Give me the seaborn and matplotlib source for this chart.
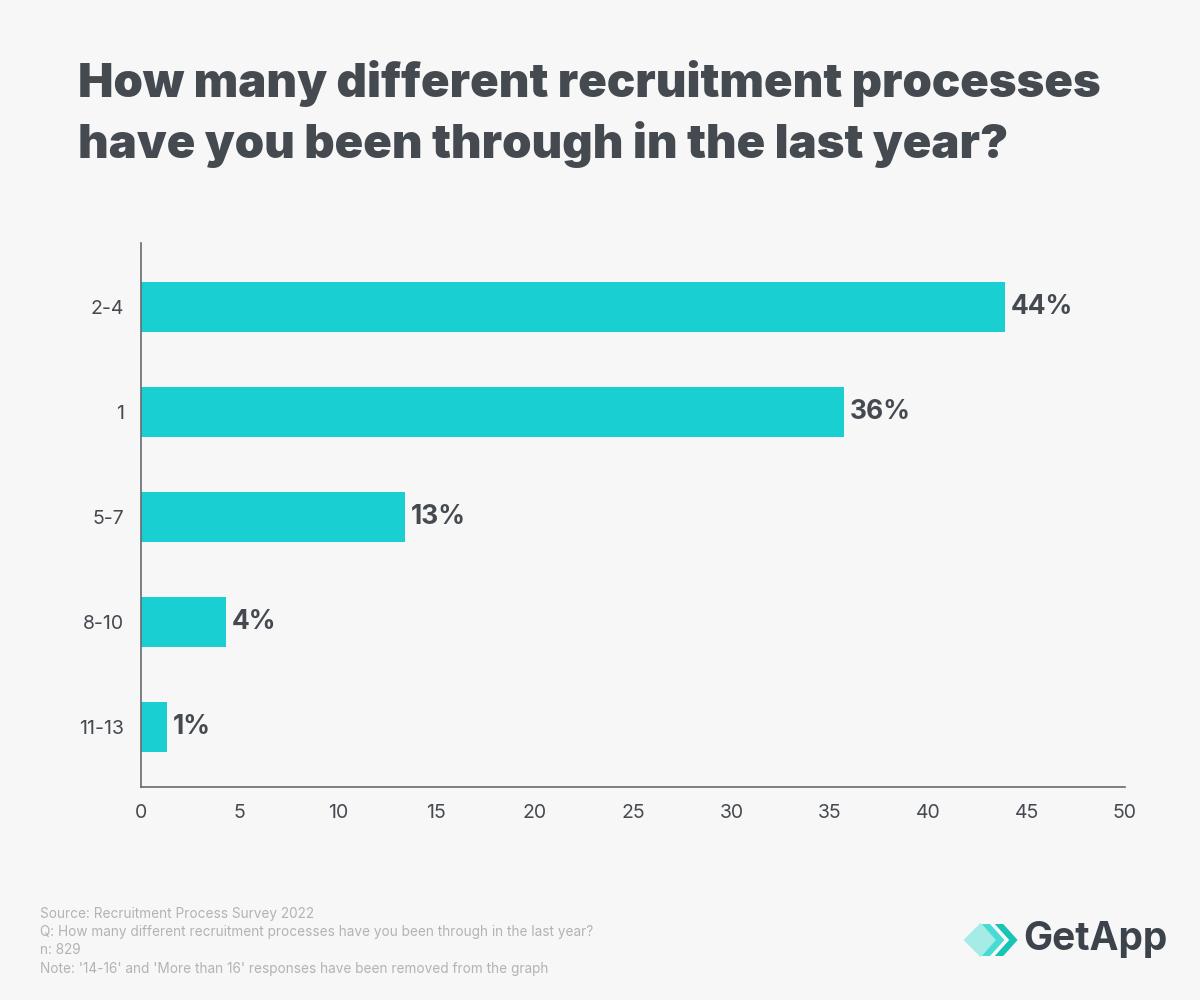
import matplotlib
matplotlib.use("Agg")
import matplotlib.pyplot as plt
import seaborn as sns
import pandas as pd
from matplotlib.patches import Polygon

categories = ["2-4", "1", "5-7", "8-10", "11-13"]
values = [43.9, 35.7, 13.4, 4.3, 1.3]
labels = ["44%", "36%", "13%", "4%", "1%"]
xticks = [0, 5, 10, 15, 20, 25, 30, 35, 40, 45, 50]

BG = "#f7f7f7"
BAR = "#19cfd1"
DARK = "#454a51"
GREY = "#b3b3b3"

sns.set_theme(style="white")
plt.rcParams["font.family"] = ["Inter", "DejaVu Sans"]

df = pd.DataFrame({"category": categories, "value": values})

fig = plt.figure(figsize=(12, 10), dpi=100, facecolor=BG)
ax = fig.add_axes([0.1175, 0.213, 0.82, 0.544])
ax.set_facecolor(BG)

sns.barplot(data=df, x="value", y="category", order=categories, color=BAR,
            width=0.48, saturation=1, ax=ax, edgecolor="none")

for i, (v, lab) in enumerate(zip(values, labels)):
    ax.text(v + 0.3, i, lab, va="center", ha="left", fontsize=19,
            fontweight="bold", color=DARK)

ax.set_xlim(0, 50)
ax.set_ylim(4.57, -0.61)
ax.set_xticks(xticks)
ax.set_xticklabels([str(t) for t in xticks])
ax.set_xlabel("")
ax.set_ylabel("")
ax.tick_params(axis="x", labelsize=14, colors=DARK, length=0, pad=12)
ax.tick_params(axis="y", labelsize=14, colors=DARK, length=0, pad=12)
for s in ["top", "right"]:
    ax.spines[s].set_visible(False)
for s in ["left", "bottom"]:
    ax.spines[s].set_color("#666a70")
    ax.spines[s].set_linewidth(1.2)

fig.text(0.065, 0.940, "How many different recruitment processes\nhave you been through in the last year?",
         fontsize=34, fontweight=900, color=DARK, ha="left", va="top",
         linespacing=1.38)

foot = ("Source: Recruitment Process Survey 2022\n"
        "Q: How many different recruitment processes have you been through in the last year?\n"
        "n: 829\n"
        "Note: '14-16' and 'More than 16' responses have been removed from the graph")
fig.text(0.033, 0.093, foot, fontsize=9.8, color=GREY, ha="left", va="top",
         linespacing=1.38)

# GetApp logo
fig.text(0.853, 0.060, "GetApp", fontsize=28, fontweight="bold", color="#3d434b",
         ha="left", va="center")
def chevron(x0, col, alpha):
    pts = [(x0, 0.076), (x0 + 0.007, 0.076), (x0 + 0.019, 0.060),
           (x0 + 0.007, 0.044), (x0, 0.044), (x0 + 0.012, 0.060)]
    fig.patches.append(Polygon(pts, closed=True, transform=fig.transFigure,
                               facecolor=col, alpha=alpha, edgecolor="none"))
diamond = [(0.803, 0.060), (0.817, 0.077), (0.831, 0.060), (0.817, 0.043)]
fig.patches.append(Polygon(diamond, closed=True, transform=fig.transFigure,
                           facecolor="#9cebe6", alpha=0.9, edgecolor="none"))
chevron(0.818, "#3fd9d3", 0.95)
chevron(0.829, "#18c4b5", 1.0)

fig.savefig("out.png", dpi=100, facecolor=BG)
